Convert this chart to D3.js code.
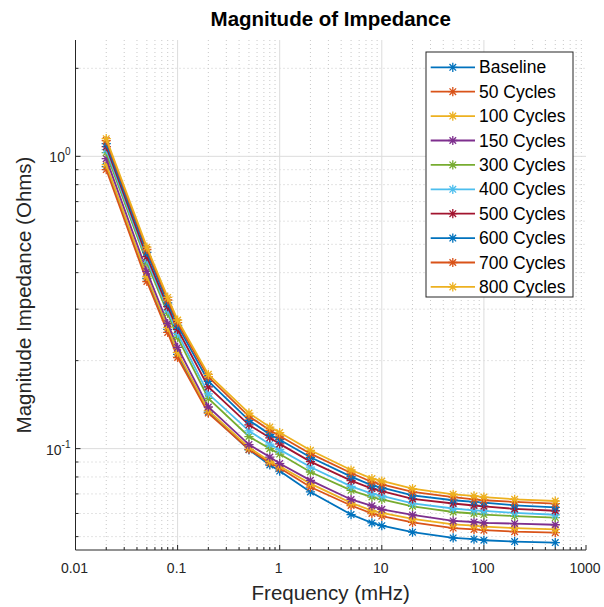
<!DOCTYPE html>
<html>
<head>
<meta charset="utf-8">
<script src="https://cdn.jsdelivr.net/npm/d3@7"></script>
<style>
body { margin: 0; background: #fff; }
text { font-family: "Liberation Sans", Arial, Helvetica, sans-serif; }
</style>
</head>
<body>
<script>
// frequencies (mHz)
var freq = [0.02, 0.05, 0.08, 0.1, 0.2, 0.5, 0.8, 1, 2, 5, 8, 10, 20, 50, 80, 100, 200, 500];

// magnitude of impedance (Ohms) per series
var baseline  = [0.922, 0.382, 0.256, 0.210, 0.1334, 0.0991, 0.0879, 0.0838, 0.0711, 0.0595, 0.0557, 0.0545, 0.0518, 0.0495, 0.0490, 0.0486, 0.0481, 0.0477];
var cycles50  = [0.901, 0.373, 0.2497, 0.205, 0.1323, 0.0994, 0.0894, 0.0858, 0.0739, 0.0639, 0.0600, 0.0588, 0.0559, 0.0535, 0.0529, 0.0526, 0.0520, 0.0516];
var cycles100 = [0.937, 0.388, 0.260, 0.2134, 0.135, 0.101, 0.0905, 0.0870, 0.0759, 0.0652, 0.0614, 0.0603, 0.0575, 0.0551, 0.0545, 0.0541, 0.0535, 0.0529];
var cycles150 = [0.982, 0.404, 0.268, 0.222, 0.1388, 0.1032, 0.0936, 0.0889, 0.0779, 0.0670, 0.0637, 0.0620, 0.0593, 0.0566, 0.0561, 0.0557, 0.0554, 0.0549];
var cycles300 = [1.030, 0.433, 0.290, 0.240, 0.1485, 0.110, 0.100, 0.0958, 0.0832, 0.0720, 0.0683, 0.0671, 0.0635, 0.0607, 0.0600, 0.0595, 0.0588, 0.0581];
var cycles400 = [1.054, 0.443, 0.298, 0.248, 0.154, 0.115, 0.1036, 0.0992, 0.0865, 0.0743, 0.0702, 0.0689, 0.0650, 0.0624, 0.0615, 0.0612, 0.0603, 0.0594];
var cycles500 = [1.079, 0.454, 0.306, 0.256, 0.1626, 0.1206, 0.1089, 0.1038, 0.0903, 0.0777, 0.0730, 0.0716, 0.0673, 0.0649, 0.0639, 0.0635, 0.0622, 0.0613];
var cycles600 = [1.105, 0.469, 0.315, 0.264, 0.170, 0.125, 0.1119, 0.1073, 0.0934, 0.0802, 0.0749, 0.0736, 0.0692, 0.0666, 0.0657, 0.0654, 0.0640, 0.0630];
var cycles700 = [1.132, 0.480, 0.3225, 0.270, 0.176, 0.129, 0.1155, 0.1104, 0.0961, 0.0825, 0.0769, 0.0755, 0.0711, 0.0682, 0.0671, 0.0666, 0.0657, 0.0648];
var cycles800 = [1.149, 0.489, 0.329, 0.2755, 0.1795, 0.1323, 0.1185, 0.1135, 0.0987, 0.0845, 0.0790, 0.0775, 0.0730, 0.0698, 0.0689, 0.0683, 0.0671, 0.0662];

var seriesNames = ["Baseline", "50 Cycles", "100 Cycles", "150 Cycles", "300 Cycles",
                   "400 Cycles", "500 Cycles", "600 Cycles", "700 Cycles", "800 Cycles"];
var seriesValues = [baseline, cycles50, cycles100, cycles150, cycles300,
                    cycles400, cycles500, cycles600, cycles700, cycles800];
var colors = ["#0072BD", "#D95319", "#EDB120", "#7E2F8E", "#77AC30",
              "#4DBEEE", "#A2142F", "#0072BD", "#D95319", "#EDB120"];

var xTicks = [0.01, 0.1, 1, 10, 100, 1000];
var xTickLabels = ["0.01", "0.1", "1", "10", "100", "1000"];
var yTicks = [0.1, 1];
var yTickExp = ["-1", "0"];

var W = 604, H = 607;
var margin = {top: 40, right: 18, bottom: 57, left: 75.5};
var width = W - margin.left - margin.right,
    height = H - margin.top - margin.bottom;

var svg = d3.select("body").append("svg")
    .attr("width", W)
    .attr("height", H);

var g = svg.append("g")
    .attr("transform", "translate(" + margin.left + "," + margin.top + ")");

// scales
var x = d3.scaleLog().domain([0.01, 1000]).range([0, width]);
var y = d3.scaleLog().domain([0.045, 2.5]).range([height, 0]);

// minor positions
var xMinor = [], yMinor = [];
[0.01, 0.1, 1, 10, 100].forEach(function(d) {
  for (var k = 2; k <= 9; k++) xMinor.push(d * k);
});
[0.01, 0.1, 1].forEach(function(d) {
  for (var k = 2; k <= 9; k++) {
    var v = d * k;
    if (v >= 0.045 && v <= 2.5) yMinor.push(v);
  }
});

// grid
var grid = g.append("g");
grid.selectAll(".xminor").data(xMinor).enter().append("line")
    .attr("x1", function(d) { return x(d); }).attr("x2", function(d) { return x(d); })
    .attr("y1", 0).attr("y2", height)
    .attr("stroke", "#c8c8c8").attr("stroke-dasharray", "1,3");
grid.selectAll(".yminor").data(yMinor).enter().append("line")
    .attr("y1", function(d) { return y(d); }).attr("y2", function(d) { return y(d); })
    .attr("x1", 0).attr("x2", width)
    .attr("stroke", "#c8c8c8").attr("stroke-dasharray", "1,3");
grid.selectAll(".xmajor").data(xTicks.slice(1, -1)).enter().append("line")
    .attr("x1", function(d) { return x(d); }).attr("x2", function(d) { return x(d); })
    .attr("y1", 0).attr("y2", height)
    .attr("stroke", "#dcdcdc");
grid.selectAll(".ymajor").data(yTicks).enter().append("line")
    .attr("y1", function(d) { return y(d); }).attr("y2", function(d) { return y(d); })
    .attr("x1", 0).attr("x2", width)
    .attr("stroke", "#dcdcdc");

// lines
var line = d3.line()
    .x(function(d) { return x(d[0]); })
    .y(function(d) { return y(d[1]); });

var r = 4.6, dd = 3.3;
var star = "M" + (-r) + ",0L" + r + ",0M0," + (-r) + "L0," + r +
           "M" + (-dd) + "," + (-dd) + "L" + dd + "," + dd +
           "M" + (-dd) + "," + dd + "L" + dd + "," + (-dd);

seriesValues.forEach(function(vals, i) {
  var pts = freq.map(function(f, j) { return [f, vals[j]]; });
  var s = g.append("g");
  s.append("path")
      .datum(pts)
      .attr("fill", "none")
      .attr("stroke", colors[i])
      .attr("stroke-width", 1.8)
      .attr("d", line);
  s.selectAll("path.m").data(pts).enter().append("path")
      .attr("class", "m")
      .attr("transform", function(d) { return "translate(" + x(d[0]) + "," + y(d[1]) + ")"; })
      .attr("d", star)
      .attr("fill", "none")
      .attr("stroke", colors[i])
      .attr("stroke-width", 1.3);
});

// axes
var axisColor = "#262626";
var xAxis = g.append("g").attr("transform", "translate(0," + height + ")");
xAxis.append("line").attr("x1", 0).attr("x2", width).attr("stroke", axisColor);
xAxis.selectAll(".mt").data(xMinor).enter().append("line")
    .attr("x1", function(d) { return x(d); }).attr("x2", function(d) { return x(d); })
    .attr("y1", 0).attr("y2", -3).attr("stroke", axisColor);
xAxis.selectAll(".Mt").data(xTicks).enter().append("line")
    .attr("x1", function(d) { return x(d); }).attr("x2", function(d) { return x(d); })
    .attr("y1", 0).attr("y2", -5).attr("stroke", axisColor);
xAxis.selectAll("text").data(xTicks).enter().append("text")
    .attr("x", function(d) { return x(d) - 1; })
    .attr("y", 23)
    .attr("text-anchor", "middle")
    .attr("fill", axisColor)
    .style("font-size", "14px")
    .text(function(d, i) { return xTickLabels[i]; });

var yAxis = g.append("g");
yAxis.append("line").attr("y1", 0).attr("y2", height).attr("stroke", axisColor);
yAxis.selectAll(".mt").data(yMinor).enter().append("line")
    .attr("y1", function(d) { return y(d); }).attr("y2", function(d) { return y(d); })
    .attr("x1", 0).attr("x2", 3).attr("stroke", axisColor);
yAxis.selectAll(".Mt").data(yTicks).enter().append("line")
    .attr("y1", function(d) { return y(d); }).attr("y2", function(d) { return y(d); })
    .attr("x1", 0).attr("x2", 5).attr("stroke", axisColor);
var yl = yAxis.selectAll("text").data(yTicks).enter().append("text")
    .attr("x", -5)
    .attr("y", function(d) { return y(d) + 6; })
    .attr("text-anchor", "end")
    .attr("fill", axisColor)
    .style("font-size", "14px");
yl.append("tspan").text("10");
yl.append("tspan")
    .attr("dy", -7)
    .style("font-size", "10px")
    .text(function(d, i) { return yTickExp[i]; });

// labels
svg.append("text")
    .attr("x", margin.left + width / 2)
    .attr("y", 600)
    .attr("text-anchor", "middle")
    .attr("fill", axisColor)
    .style("font-size", "20.5px")
    .text("Frequency (mHz)");

svg.append("text")
    .attr("transform", "translate(31," + (margin.top + height / 2) + ") rotate(-90)")
    .attr("text-anchor", "middle")
    .attr("fill", axisColor)
    .style("font-size", "20.5px")
    .text("Magnitude Impedance (Ohms)");

svg.append("text")
    .attr("x", margin.left + width / 2)
    .attr("y", 26)
    .attr("text-anchor", "middle")
    .attr("fill", "#000")
    .style("font-size", "20.5px")
    .style("font-weight", "bold")
    .text("Magnitude of Impedance");

// legend
var legend = svg.append("g").attr("transform", "translate(426,52)");
legend.append("rect")
    .attr("width", 147).attr("height", 245)
    .attr("fill", "#fff").attr("stroke", axisColor).attr("stroke-width", 1);
seriesNames.forEach(function(name, i) {
  var ly = 15.3 + i * 24.4;
  var e = legend.append("g").attr("transform", "translate(0," + ly + ")");
  e.append("line").attr("x1", 4.7).attr("x2", 49).attr("stroke", colors[i]).attr("stroke-width", 1.8);
  e.append("path").attr("transform", "translate(26.8,0)").attr("d", star)
      .attr("fill", "none").attr("stroke", colors[i]).attr("stroke-width", 1.3);
  e.append("text").attr("x", 53).attr("y", 6)
      .attr("fill", "#000")
      .style("font-size", "17.5px")
      .text(name);
});
</script>
</body>
</html>
